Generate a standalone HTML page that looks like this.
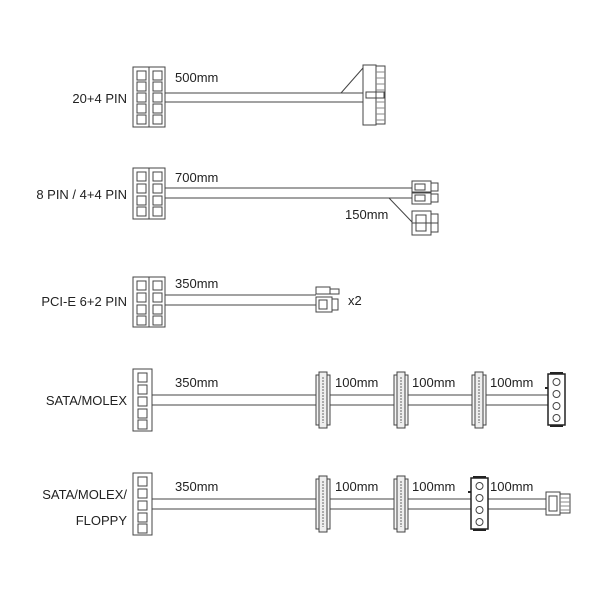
<!DOCTYPE html>
<html><head><style>body{margin:0;background:#fff}svg{display:block}text{font-family:"Liberation Sans",sans-serif;font-size:13px;fill:#222;stroke:none}</style></head><body>
<svg width="600" height="600" viewBox="0 0 600 600" fill="none" stroke="#444" stroke-width="1">
<defs>
<g id="sq"><rect width="9" height="9" fill="#fff"/></g>
<g id="sata">
<rect x="0" y="0" width="14" height="50" fill="#f4f4f4"/>
<rect x="3" y="-3" width="8" height="56" fill="#eee"/>
<line x1="7" y1="2" x2="7" y2="48" stroke="#666" stroke-dasharray="2,1"/>
</g>
<g id="molex">
<rect x="0" y="0" width="17" height="51" fill="#fff" stroke="#222" stroke-width="1.5"/>
<line x1="2" y1="-1" x2="15" y2="-1" stroke="#222" stroke-width="2"/>
<line x1="2" y1="52" x2="15" y2="52" stroke="#222" stroke-width="2"/>
<rect x="-3" y="13" width="3" height="2" fill="#222" stroke="none"/>
<circle cx="8.5" cy="8" r="3.5"/><circle cx="8.5" cy="20" r="3.5"/><circle cx="8.5" cy="32" r="3.5"/><circle cx="8.5" cy="44" r="3.5"/>
</g>
</defs>

<!-- Row 1 -->
<text x="127" y="103" text-anchor="end">20+4 PIN</text>
<rect x="133" y="67" width="32" height="60"/><line x1="149" y1="67" x2="149" y2="127"/>
<use href="#sq" x="137" y="71"/><use href="#sq" x="137" y="82"/><use href="#sq" x="137" y="93"/><use href="#sq" x="137" y="104"/><use href="#sq" x="137" y="115"/>
<use href="#sq" x="153" y="71"/><use href="#sq" x="153" y="82"/><use href="#sq" x="153" y="93"/><use href="#sq" x="153" y="104"/><use href="#sq" x="153" y="115"/>
<text x="175" y="82">500mm</text>
<line x1="165" y1="93" x2="363" y2="93"/><line x1="165" y1="102" x2="363" y2="102"/>
<line x1="341" y1="93" x2="363" y2="68"/>
<rect x="363" y="65" width="13" height="60" fill="#fff"/>
<rect x="376" y="66" width="9" height="58" fill="#fff"/>
<g stroke="#888"><line x1="376" y1="72" x2="385" y2="72"/><line x1="376" y1="78" x2="385" y2="78"/><line x1="376" y1="84" x2="385" y2="84"/><line x1="376" y1="90" x2="385" y2="90"/><line x1="376" y1="102" x2="385" y2="102"/><line x1="376" y1="108" x2="385" y2="108"/><line x1="376" y1="114" x2="385" y2="114"/><line x1="376" y1="120" x2="385" y2="120"/></g>
<rect x="366" y="92" width="18" height="6"/>

<!-- Row 2 -->
<text x="127" y="199" text-anchor="end">8 PIN / 4+4 PIN</text>
<rect x="133" y="168" width="32" height="51"/><line x1="149" y1="168" x2="149" y2="219"/>
<use href="#sq" x="137" y="172"/><use href="#sq" x="137" y="184"/><use href="#sq" x="137" y="196"/><use href="#sq" x="137" y="207"/>
<use href="#sq" x="153" y="172"/><use href="#sq" x="153" y="184"/><use href="#sq" x="153" y="196"/><use href="#sq" x="153" y="207"/>
<text x="175" y="182">700mm</text>
<line x1="165" y1="188" x2="412" y2="188"/><line x1="165" y1="198" x2="412" y2="198"/>
<line x1="389" y1="198" x2="412" y2="222"/>
<text x="345" y="219">150mm</text>
<rect x="412" y="181" width="19" height="11" fill="#fff"/><rect x="431" y="183" width="7" height="8" fill="#fff"/><rect x="415" y="184" width="10" height="6"/>
<rect x="412" y="193" width="19" height="11" fill="#fff"/><rect x="431" y="194" width="7" height="8" fill="#fff"/><rect x="415" y="195" width="10" height="6"/>
<rect x="412" y="211" width="19" height="24" fill="#fff"/><rect x="431" y="214" width="7" height="18" fill="#fff"/><line x1="412" y1="223" x2="438" y2="223"/><rect x="416" y="215" width="10" height="16"/>

<!-- Row 3 -->
<text x="127" y="306" text-anchor="end">PCI-E 6+2 PIN</text>
<rect x="133" y="277" width="32" height="50"/><line x1="149" y1="277" x2="149" y2="327"/>
<use href="#sq" x="137" y="281"/><use href="#sq" x="137" y="293"/><use href="#sq" x="137" y="305"/><use href="#sq" x="137" y="316"/>
<use href="#sq" x="153" y="281"/><use href="#sq" x="153" y="293"/><use href="#sq" x="153" y="305"/><use href="#sq" x="153" y="316"/>
<text x="175" y="288">350mm</text>
<line x1="165" y1="295" x2="316" y2="295"/><line x1="165" y1="305" x2="316" y2="305"/>
<rect x="316" y="287" width="14" height="7" fill="#fff"/><rect x="330" y="289" width="9" height="5" fill="#fff"/>
<rect x="316" y="297" width="16" height="15" fill="#fff"/><rect x="332" y="299" width="6" height="11" fill="#fff"/><rect x="319" y="300" width="8" height="9"/>
<text x="348" y="305">x2</text>

<!-- Row 4 -->
<text x="127" y="405" text-anchor="end">SATA/MOLEX</text>
<rect x="133" y="369" width="19" height="62"/>
<use href="#sq" x="138" y="373"/><use href="#sq" x="138" y="385"/><use href="#sq" x="138" y="397"/><use href="#sq" x="138" y="409"/><use href="#sq" x="138" y="420"/>
<text x="175" y="387">350mm</text>
<line x1="152" y1="395" x2="548" y2="395"/><line x1="152" y1="405" x2="548" y2="405"/>
<use href="#sata" x="316" y="375"/><use href="#sata" x="394" y="375"/><use href="#sata" x="472" y="375"/>
<text x="335" y="387">100mm</text><text x="412" y="387">100mm</text><text x="490" y="387">100mm</text>
<use href="#molex" x="548" y="374"/>

<!-- Row 5 -->
<text x="127" y="499" text-anchor="end">SATA/MOLEX/</text>
<text x="127" y="525" text-anchor="end">FLOPPY</text>
<rect x="133" y="473" width="19" height="62"/>
<use href="#sq" x="138" y="477"/><use href="#sq" x="138" y="489"/><use href="#sq" x="138" y="501"/><use href="#sq" x="138" y="513"/><use href="#sq" x="138" y="524"/>
<text x="175" y="491">350mm</text>
<line x1="152" y1="499" x2="546" y2="499"/><line x1="152" y1="509" x2="546" y2="509"/>
<use href="#sata" x="316" y="479"/><use href="#sata" x="394" y="479"/>
<text x="335" y="491">100mm</text><text x="412" y="491">100mm</text><text x="490" y="491">100mm</text>
<use href="#molex" x="471" y="478"/>
<rect x="546" y="492" width="14" height="23" fill="#fff"/><rect x="560" y="494" width="10" height="19" fill="#fff"/>
<g stroke="#888"><line x1="560" y1="498" x2="570" y2="498"/><line x1="560" y1="502" x2="570" y2="502"/><line x1="560" y1="506" x2="570" y2="506"/><line x1="560" y1="510" x2="570" y2="510"/></g>
<rect x="549" y="496" width="8" height="15"/>
</svg>
</body></html>
